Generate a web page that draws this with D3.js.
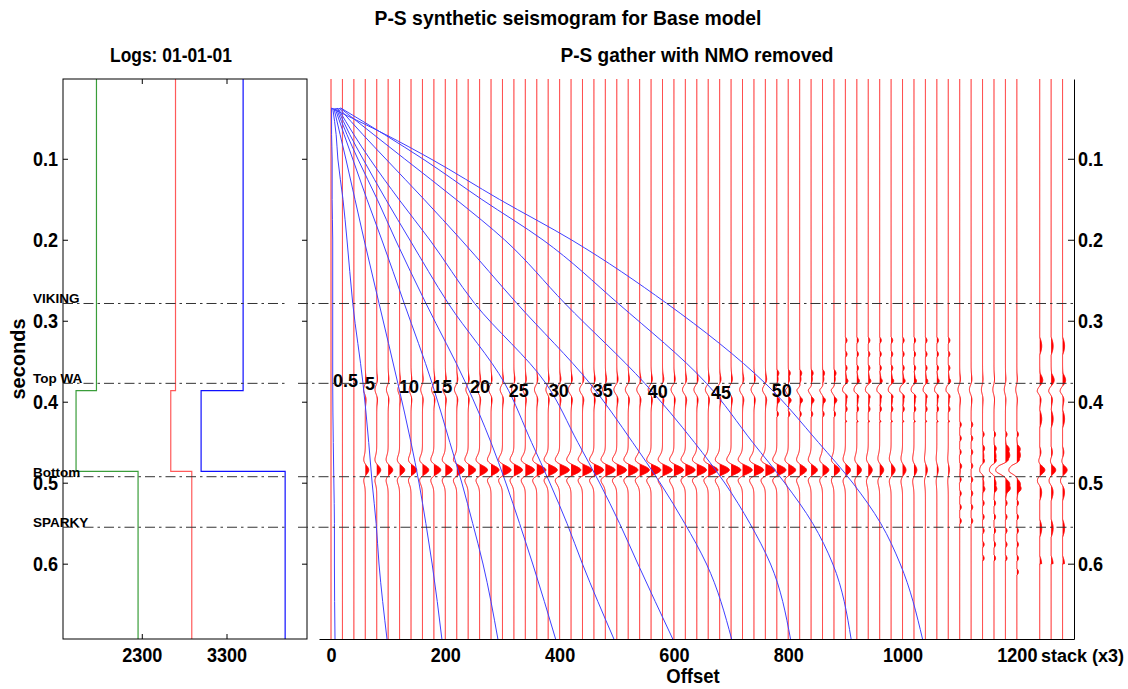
<!DOCTYPE html>
<html>
<head>
<meta charset="utf-8">
<script src="https://cdn.jsdelivr.net/npm/d3@7"></script>
<style>
  body { margin: 0; background: #fff; }
  svg { display: block; }
  text { font-family: "Liberation Sans", Arial, Helvetica, sans-serif; font-weight: bold; fill: #000; }
</style>
</head>
<body>
<script>
// ---- time axis (seconds) ----
var tTop = 0.0015, tBottom = 0.693;
var timeTicks = [0.1, 0.2, 0.3, 0.4, 0.5, 0.6];

// ---- logs panel ----
var logTicks = [2300, 3300];
var layerTimes = [0.0015, 0.3864, 0.486, 0.693];
var logGreen = [1765, 1524, 2256];
var logRed = [2698, 2642, 2890];
var logBlue = [3496, 3000, 3992];

// ---- horizons ----
var horizonNames = ["VIKING", "Top WA", "Bottom", "SPARKY"];
var horizonTimes = [0.2787, 0.3773, 0.4926, 0.555];

// ---- gather ----
var offsetTicks = [0, 200, 400, 600, 800, 1000, 1200];
var traceOffsets = [0, 20, 40, 60, 80, 100, 120, 140, 160, 180, 200, 220, 240, 260, 280, 300,
  320, 340, 360, 380, 400, 420, 440, 460, 480, 500, 520, 540, 560, 580, 600, 620, 640, 660,
  680, 700, 720, 740, 760, 780, 800, 820, 840, 860, 880, 900, 920, 940, 960, 980, 1000, 1020,
  1040, 1060, 1080, 1100, 1120, 1140, 1160, 1180, 1200];
var bottomTime = 0.4843, topTime = 0.385;
var bottomAmp = [0, 0, 0, 6, 7, 8, 9, 10, 11, 12,
  12, 13, 13, 14, 14, 15, 15, 16, 16, 16,
  17, 17, 17, 17, 17, 17, 17, 17, 17, 17,
  17, 17, 17, 17, 17, 17, 17, 17, 17, 16,
  13, 12, 11, 11, 10, 9, 8, 7, 7, 7,
  6, 5, 3.5, 2.5, 2, 1, 0, -5, -8, -17,
  -14];
var bottomScale = [1, 1, 1, 1, 1, 1, 1, 1, 1, 1,
  1, 1, 1, 1, 1, 1, 1, 1, 1, 1,
  1, 1, 1, 1, 1, 1, 1, 1, 1, 1,
  1, 1, 1, 1, 1, 1, 1, 1, 1, 1,
  1, 1, 1, 1, 1, 1.05, 1.05, 1.1, 1.1, 1.1,
  1.1, 1.1, 1.1, 1.1, 1.1, 1.2, 1.2, 1.3, 1.3, 1.4,
  1.4];
var topAmp = [0, 0, 0, -3, -3, -3, -3, -3, -3, -4,
  -4, -4, -4, -4, -4, -4, -4, -4, -4, -4,
  -5, -5, -5, -5, -5, -5, -5, -5, -5, -5,
  -5, -5, -5, -5, -5, -5, -5, -5, -5, -5,
  -5, -5, -5, -5, -5, -5, -5, -5, -5, -5,
  -5, -5, -4, -4, -4, -3, -3, -2, -2, -2,
  -2];
var noiseStart = [0, 0, 0, 0, 0, 0, 0, 0, 0, 0,
  0, 0, 0, 0, 0, 0, 0, 0, 0, 0,
  0, 0, 0, 0, 0, 0, 0, 0, 0, 0,
  0, 0, 0, 0, 0, 0, 0, 0, 0, 0.36,
  0.36, 0.36, 0.36, 0.36, 0.36, 0.32, 0.32, 0.32, 0.32, 0.32,
  0.32, 0.32, 0.32, 0.32, 0.32, 0.424, 0.424, 0.436, 0.436, 0.436,
  0.436];
var noiseEnd = [0, 0, 0, 0, 0, 0, 0, 0, 0, 0,
  0, 0, 0, 0, 0, 0, 0, 0, 0, 0,
  0, 0, 0, 0, 0, 0, 0, 0, 0, 0,
  0, 0, 0, 0, 0, 0, 0, 0, 0, 0.42,
  0.42, 0.42, 0.42, 0.42, 0.42, 0.425, 0.425, 0.425, 0.425, 0.425,
  0.425, 0.425, 0.425, 0.425, 0.425, 0.56, 0.56, 0.596, 0.596, 0.596,
  0.62];

// stack traces (x3)
var stackOffsets = [1240, 1260, 1280];
var stackBottomAmp = [9, 8, 8];
var stackTopAmp = [-5, -5, -5];
var stackNoise = [0.32, 0.6];

// ---- constant-angle curves (offset at each curve time) ----
var curveTimes = [0.0373, 0.0703, 0.1003, 0.1503, 0.2003, 0.2784, 0.3774, 0.4504, 0.5004, 0.5504, 0.6004, 0.693];
var angleNames = ["0.5", "5", "10", "15", "20", "25", "30", "35", "40", "45", "50"];
var angleOffsets = [
  [1, 1, 2, 2, 3, 3, 3, 4, 5, 6, 6, 7],
  [3, 9, 12, 21, 28, 38, 56, 66, 72, 79, 84, 98],
  [5, 16, 26, 42, 58, 84, 117, 140, 154, 166, 177, 194],
  [7, 23, 38, 63, 89, 128, 177, 208, 229, 248, 266, 292],
  [9, 28, 47, 81, 113, 166, 236, 280, 306, 330, 353, 393],
  [11, 33, 56, 96, 138, 205, 304, 351, 383, 413, 440, 495],
  [12, 40, 68, 119, 173, 251, 376, 432, 470, 505, 537, 598],
  [14, 56, 96, 163, 228, 325, 453, 528, 576, 619, 657, 701],
  [16, 75, 129, 219, 304, 409, 549, 636, 689, 733, 769, 804],
  [17, 94, 161, 264, 371, 502, 657, 738, 794, 843, 878, 910],
  [0, 96, 175, 295, 421, 587, 760, 853, 913, 962, 996, 1035]
];
var angleLabelOffset = [3.5, 59.5, 119, 177, 243, 311, 381, 458, 554, 665, 771];
var angleLabelTime = [0.382, 0.386, 0.389, 0.389, 0.389, 0.394, 0.394, 0.394, 0.395, 0.397, 0.394];

// ------------------------------------------------------------------
var W = 1128, H = 689;
var svg = d3.select("body").append("svg")
    .attr("width", W)
    .attr("height", H);

var y = d3.scaleLinear().domain([tTop, tBottom]).range([79, 639]);
var xLog = d3.scaleLinear().domain([1370, 4250]).range([63, 307]);
var xOff = d3.scaleLinear().domain([-21, 1300]).range([319, 1074]);

// squeeze text horizontally (the original font is narrower than Liberation Sans)
function condense(sel, k) {
  sel.each(function() {
    var w = this.getComputedTextLength();
    d3.select(this).attr("textLength", w * k).attr("lengthAdjust", "spacingAndGlyphs");
  });
}
function fitWidth(sel, w) {
  sel.attr("textLength", w).attr("lengthAdjust", "spacingAndGlyphs");
}

// titles
fitWidth(svg.append("text").attr("x", 568).attr("y", 25).attr("text-anchor", "middle")
    .style("font-size", "21px").text("P-S synthetic seismogram for Base model"), 387);
fitWidth(svg.append("text").attr("x", 171).attr("y", 62).attr("text-anchor", "middle")
    .style("font-size", "21px").text("Logs: 01-01-01"), 122);
fitWidth(svg.append("text").attr("x", 697).attr("y", 62).attr("text-anchor", "middle")
    .style("font-size", "21px").text("P-S gather with NMO removed"), 273);

// ---- left panel: logs ----
var left = svg.append("g");

function stepPts(vals) {
  var pts = [];
  vals.forEach(function(v, i) {
    pts.push([v, layerTimes[i]]);
    pts.push([v, layerTimes[i + 1]]);
  });
  return pts;
}
var logLine = d3.line()
    .x(function(d) { return xLog(d[0]); })
    .y(function(d) { return y(d[1]); });

[[logGreen, "#3a9d3a"], [logRed, "#ff5a5a"], [logBlue, "#1010ff"]].forEach(function(l) {
  left.append("path")
      .attr("d", logLine(stepPts(l[0])))
      .attr("fill", "none")
      .attr("stroke", l[1])
      .attr("stroke-width", 1.2);
});

var fmt = d3.format(".1f");
left.append("g").attr("transform", "translate(63,0)")
    .call(d3.axisLeft(y).tickValues(timeTicks).tickFormat(fmt).tickSizeInner(-5).tickSizeOuter(0).tickPadding(5));
left.append("g").attr("transform", "translate(307,0)")
    .call(d3.axisRight(y).tickValues(timeTicks).tickFormat("").tickSizeInner(-5).tickSizeOuter(0));
left.append("g").attr("transform", "translate(0,639)")
    .call(d3.axisBottom(xLog).tickValues(logTicks).tickFormat(d3.format("d")).tickSizeInner(-5).tickSizeOuter(0).tickPadding(8));
left.append("g").attr("transform", "translate(0,79)")
    .call(d3.axisTop(xLog).tickValues(logTicks).tickFormat("").tickSizeInner(-5).tickSizeOuter(0));
left.selectAll(".domain").remove();
left.append("rect").attr("x", 63).attr("y", 79).attr("width", 244).attr("height", 560)
    .attr("fill", "none").attr("stroke", "#000").attr("stroke-width", 1);

svg.append("text")
    .attr("transform", "translate(25,359) rotate(-90)")
    .attr("text-anchor", "middle")
    .style("font-size", "20px")
    .text("seconds");

// ---- right panel: gather ----
var right = svg.append("g");

function ricker(t, f) {
  var a = Math.PI * Math.PI * f * f * t * t;
  return (1 - 2 * a) * Math.exp(-a);
}
var sampleT = d3.range(tTop, tBottom, 0.0004).concat([tBottom]);

function traceSamples(tb, tp, scale, n0, n1, nAmp, nPer) {
  return sampleT.map(function(t) {
    var v = tb * ricker((t - bottomTime) / scale, 30) + tp * ricker(t - topTime, 30);
    if (n1 > n0 && t >= n0 && t <= n1) v += nAmp * Math.max(0, Math.sin(2 * Math.PI * (t - n0) / nPer));
    return { t: t, v: v };
  });
}

function drawTrace(off, s) {
  var area = d3.area()
      .x0(xOff(off))
      .x1(function(d) { return xOff(off + Math.max(0, d.v)); })
      .y(function(d) { return y(d.t); });
  var line = d3.line()
      .x(function(d) { return xOff(off + d.v); })
      .y(function(d) { return y(d.t); });
  right.append("path").attr("d", area(s)).attr("fill", "#f00");
  right.append("path").attr("d", line(s)).attr("fill", "none")
      .attr("stroke", "#f00").attr("stroke-width", 1);
}

traceOffsets.forEach(function(off, k) {
  drawTrace(off, traceSamples(bottomAmp[k], topAmp[k], bottomScale[k], noiseStart[k], noiseEnd[k], 2.8, 0.017));
});
stackOffsets.forEach(function(off, k) {
  drawTrace(off, traceSamples(stackBottomAmp[k], stackTopAmp[k], 1, stackNoise[0], stackNoise[1], 3.5, 0.045));
});

// horizons
var horizons = svg.append("g");
horizonTimes.forEach(function(t, i) {
  [[63, 287], [298, 1074]].forEach(function(seg) {
    horizons.append("line")
        .attr("x1", seg[0]).attr("x2", seg[1])
        .attr("y1", y(t)).attr("y2", y(t))
        .attr("stroke", "#333").attr("stroke-width", 1)
        .attr("stroke-dasharray", "10,4,2.5,4");
  });
  horizons.append("text")
      .attr("x", 33).attr("y", y(t))
      .style("font-size", "13.5px")
      .text(horizonNames[i]);
});

// constant-angle curves
var curveLine = d3.line()
    .x(function(d) { return xOff(d[0]); })
    .y(function(d) { return y(d[1]); })
    .curve(d3.curveMonotoneY);
angleOffsets.forEach(function(offs, i) {
  var pts = offs.map(function(o, j) { return [o, curveTimes[j]]; });
  right.append("path").attr("d", curveLine(pts))
      .attr("fill", "none").attr("stroke", "#4040ff").attr("stroke-width", 1);
  right.append("text")
      .attr("x", xOff(angleLabelOffset[i]))
      .attr("y", y(angleLabelTime[i]))
      .style("font-size", "18px")
      .text(angleNames[i]);
});

// axes for the gather
right.append("g").attr("transform", "translate(1074,0)")
    .call(d3.axisRight(y).tickValues(timeTicks).tickFormat(fmt).tickSizeInner(-6).tickSizeOuter(0).tickPadding(4));
right.append("g").attr("transform", "translate(0,639)")
    .call(d3.axisBottom(xOff).tickValues(offsetTicks).tickFormat(d3.format("d")).tickSize(0).tickPadding(8));

var tickTexts = svg.selectAll(".tick text").style("font-size", "21px").style("font-family", null);
condense(tickTexts, 0.86);
svg.selectAll(".domain").attr("stroke", "#000");

svg.append("text").attr("x", 1041).attr("y", 662).style("font-size", "18px").text("stack (x3)");
condense(svg.append("text").attr("x", 693).attr("y", 683).attr("text-anchor", "middle")
    .style("font-size", "21px").text("Offset"), 0.88);
</script>
</body>
</html>
